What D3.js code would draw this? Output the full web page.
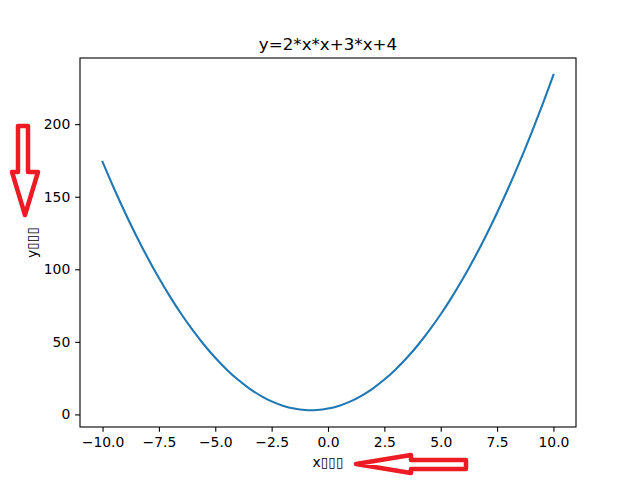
<!DOCTYPE html>
<html><head><meta charset="utf-8">
<script src="https://cdn.jsdelivr.net/npm/d3@7"></script>
<style>body{margin:0;background:#fff}</style>
</head><body>
<svg id="c" width="640" height="480"></svg>
<script>
const title = "y=2*x*x+3*x+4";
const xLabel = "x\u25AF\u25AF\u25AF";
const yLabel = "y\u25AF\u25AF\u25AF";
const xs = [-10,-9.5,-9,-8.5,-8,-7.5,-7,-6.5,-6,-5.5,-5,-4.5,-4,-3.5,-3,-2.5,-2,-1.5,-1,-0.5,0,0.5,1,1.5,2,2.5,3,3.5,4,4.5,5,5.5,6,6.5,7,7.5,8,8.5,9,9.5,10];
const ys = [174,156,139,123,108,94,81,69,58,48,39,31,24,18,13,9,6,4,3,3,4,6,9,13,18,24,31,39,48,58,69,81,94,108,123,139,156,174,193,213,234];
const xTicks = [-10,-7.5,-5,-2.5,0,2.5,5,7.5,10];
const yTicks = [0,50,100,150,200];

const svg = d3.select("#c");
const L=80, R=576, T=58, B=427;
const x = d3.scaleLinear().domain([-11,11]).range([L,R]);
const y = d3.scaleLinear().domain([-8.68,245.6]).range([B,T]);
const font = "DejaVu Sans, sans-serif";
const fmt = v => (v<0?"\u2212":"") + Math.abs(v).toFixed(1);

const line = d3.line().x((d,i)=>x(xs[i])).y(d=>y(d)).curve(d3.curveCatmullRom);
svg.append("path").datum(ys).attr("d",line).attr("fill","none")
  .attr("stroke","#1f77b4").attr("stroke-width",2.08).attr("stroke-linecap","square");

const xa = svg.append("g").attr("transform",`translate(0,${B})`)
  .call(d3.axisBottom(x).tickValues(xTicks).tickFormat(fmt).tickSize(4.86).tickPadding(4.86));
const ya = svg.append("g").attr("transform",`translate(${L},0)`)
  .call(d3.axisLeft(y).tickValues(yTicks).tickFormat(d3.format("d")).tickSize(4.86).tickPadding(4.86));
[xa,ya].forEach(a=>{
  a.select(".domain").remove();
  a.selectAll("line").attr("stroke","#000").attr("stroke-width",1.1);
  a.selectAll("text").attr("font-family",font).attr("font-size",13.9).attr("fill","#000");
});
svg.append("rect").attr("x",L).attr("y",T).attr("width",R-L).attr("height",B-T)
  .attr("fill","none").attr("stroke","#000").attr("stroke-width",1.1);

svg.append("text").attr("x",(L+R)/2).attr("y",T-8.3).attr("text-anchor","middle")
  .attr("font-family",font).attr("font-size",16.7).text(title);
svg.append("text").attr("x",(L+R)/2).attr("y",467).attr("text-anchor","middle")
  .attr("font-family",font).attr("font-size",13.9).text(xLabel);
svg.append("text").attr("transform",`translate(37,${(T+B)/2}) rotate(-90)`).attr("text-anchor","middle")
  .attr("font-family",font).attr("font-size",13.9).text(yLabel);

// red annotation arrows
const red="#ed1c24";
svg.append("path").attr("d","M18,126 L28,126 L28,172 L38,172 L25,215 L12,172 L18,172 Z")
  .attr("fill","none").attr("stroke",red).attr("stroke-width",4.5).attr("stroke-linejoin","round");
svg.append("path").attr("d","M356,464 L411,455 L411,460 L466,460 L466,469 L411,469 L411,473 Z")
  .attr("fill","none").attr("stroke",red).attr("stroke-width",4.5).attr("stroke-linejoin","round");
</script>
</body></html>
